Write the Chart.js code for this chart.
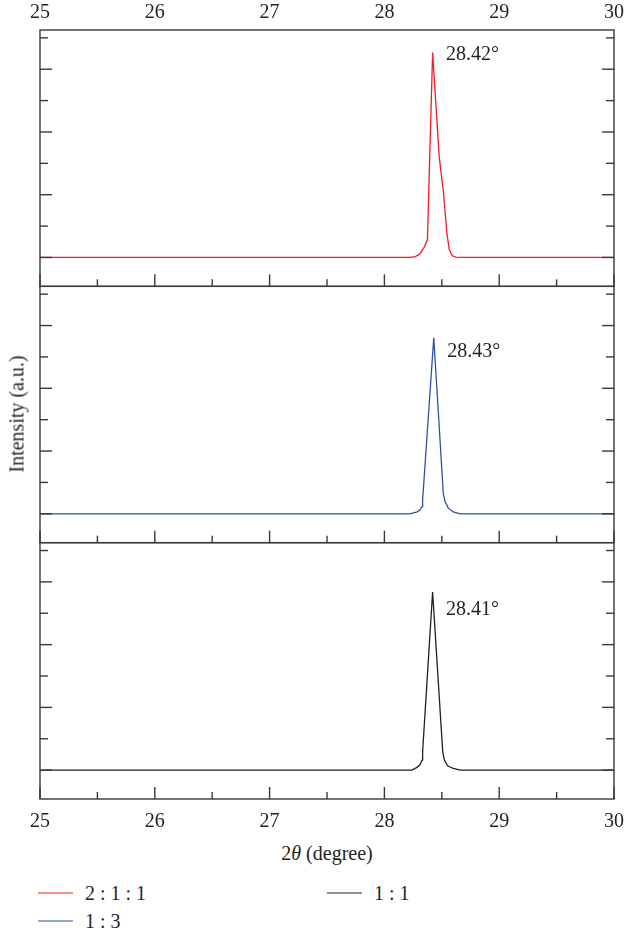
<!DOCTYPE html>
<html>
<head>
<title>XRD (111) peak</title>
<script src="https://cdn.jsdelivr.net/npm/chart.js"></script>
<style>
body {
  margin: 0;
  background: #fff;
  font-family: "Liberation Serif", serif;
  color: #231f20;
}
.fig {
  position: relative;
  width: 624px;
  height: 934px;
}
#xrd {
  position: absolute;
  left: 0;
  top: 0;
}
.ytitle {
  position: absolute;
  left: 17px;
  top: 414px;
  transform: translate(-50%, -50%) rotate(-90deg);
  font-size: 20px;
  white-space: nowrap;
}
.xtitle {
  position: absolute;
  left: 327px;
  top: 853px;
  transform: translate(-50%, -50%);
  font-size: 20px;
  white-space: nowrap;
}
.legend-item {
  position: absolute;
  display: flex;
  align-items: center;
  font-size: 20px;
  white-space: nowrap;
  transform: translateY(-50%);
}
.swatch {
  display: inline-block;
  width: 35px;
  height: 1.5px;
  margin-right: 12px;
}
</style>
</head>
<body>
<div class="fig">
  <canvas id="xrd" width="624" height="840"></canvas>
  <div class="ytitle">Intensity (a.u.)</div>
  <div class="xtitle">2<i>θ</i> (degree)</div>
  <div id="legend"></div>
</div>

<script>
// x range and tick labels
const xTickLabels = [25, 26, 27, 28, 29, 30];
const xMinorTicks = [25, 25.5, 26, 26.5, 27, 27.5, 28, 28.5, 29, 29.5, 30];
const yTickValues = [0, 1, 2, 3, 4, 5, 6, 7];

const seriesNames = ['2 : 1 : 1', '1 : 3', '1 : 1'];
const peakLabels = ['28.42°', '28.43°', '28.41°'];

// 2:1:1 (top panel)
const theta211 = [25, 28.22, 28.27, 28.31, 28.35, 28.375, 28.42, 28.478, 28.513, 28.545, 28.565, 28.59, 28.62, 28.68, 30];
const int211   = [0, 0, 0.03, 0.12, 0.35, 0.58, 6.53, 3.19, 2.12, 0.75, 0.25, 0.06, 0.01, 0, 0];

// 1:3 (middle panel)
const theta13 = [25, 28.22, 28.28, 28.31, 28.328, 28.333, 28.43, 28.513, 28.528, 28.557, 28.6, 28.66, 30];
const int13   = [0, 0, 0.05, 0.12, 0.23, 0.44, 5.61, 0.65, 0.39, 0.18, 0.06, 0, 0];

// 1:1 (bottom panel)
const theta11 = [25, 28.24, 28.28, 28.31, 28.328, 28.333, 28.42, 28.508, 28.522, 28.55, 28.594, 28.66, 30];
const int11   = [0, 0, 0.08, 0.17, 0.32, 0.59, 5.68, 0.59, 0.32, 0.14, 0.06, 0, 0];

const colors = ['#ee1c25', '#2f4fa5', '#231f20'];
const panelIds = ['yTop', 'yMid', 'yBot'];
const ink = '#231f20';
const font = { family: '"Liberation Serif", serif', size: 20 };

function pts(xs, ys) {
  return xs.map((x, i) => ({ x: x, y: ys[i] }));
}

const framePlugin = {
  id: 'frame',
  afterDraw(chart) {
    const ctx = chart.ctx;
    const a = chart.chartArea;
    const sx = chart.scales.x;
    const line = (x1, y1, x2, y2) => {
      ctx.beginPath();
      ctx.moveTo(x1, y1);
      ctx.lineTo(x2, y2);
      ctx.stroke();
    };
    ctx.save();
    ctx.strokeStyle = '#3a3a3a';
    ctx.lineWidth = 1.4;
    panelIds.forEach(id => {
      const s = chart.scales[id];
      ctx.strokeRect(a.left, s.top, a.right - a.left, s.bottom - s.top);
      yTickValues.forEach(v => {
        const py = s.getPixelForValue(v);
        const len = v % 2 === 0 ? 12 : 8;
        line(a.left, py, a.left + len, py);
        line(a.right, py, a.right - len, py);
      });
      xMinorTicks.forEach(v => {
        const px = sx.getPixelForValue(v);
        const len = Number.isInteger(v) ? 12 : 7;
        line(px, s.bottom, px, s.bottom - len);
      });
    });

    // peak labels
    const dy = [2, 14, 18];
    ctx.fillStyle = ink;
    ctx.font = '20px "Liberation Serif", serif';
    ctx.textAlign = 'left';
    ctx.textBaseline = 'middle';
    chart.data.datasets.forEach((ds, i) => {
      const meta = chart.getDatasetMeta(i);
      let top = meta.data[0];
      meta.data.forEach(p => { if (p.y < top.y) top = p; });
      ctx.fillText(peakLabels[i], top.x + 13.5, top.y + dy[i]);
    });
    ctx.restore();
  }
};

const yPanel = () => ({
  type: 'linear',
  position: 'left',
  stack: 'panels',
  stackWeight: 1,
  min: -0.92,
  max: 7.25,
  ticks: { display: false },
  grid: { display: false, drawTicks: false },
  border: { display: false },
  afterFit: s => { s.width = 0; }
});

const xAxis = (pos, pad, h) => ({
  type: 'linear',
  position: pos,
  min: 25,
  max: 30,
  afterBuildTicks: s => { s.ticks = xTickLabels.map(v => ({ value: v })); },
  ticks: { color: ink, font: font, padding: pad, maxRotation: 0, autoSkip: false },
  grid: { display: false, drawTicks: false },
  border: { display: false },
  afterFit: s => { s.height = h; s.paddingLeft = 0; s.paddingRight = 0; }
});

const ctx = document.getElementById('xrd').getContext('2d');
new Chart(ctx, {
  type: 'line',
  data: {
    datasets: [
      { label: seriesNames[0], data: pts(theta211, int211), yAxisID: 'yTop' },
      { label: seriesNames[1], data: pts(theta13, int13), yAxisID: 'yMid' },
      { label: seriesNames[2], data: pts(theta11, int11), yAxisID: 'yBot' }
    ].map((d, i) => Object.assign(d, {
      xAxisID: 'x',
      borderColor: colors[i],
      borderWidth: 1.3,
      pointRadius: 0,
      tension: 0,
      fill: false
    }))
  },
  options: {
    responsive: false,
    animation: false,
    layout: { padding: { left: 40, right: 10, top: 0, bottom: 0 } },
    plugins: {
      legend: { display: false },
      tooltip: { enabled: false }
    },
    scales: {
      x: xAxis('bottom', 11, 41),
      x2: xAxis('top', 5, 30),
      // stacked panels: the last one listed ends up on top
      yBot: yPanel(),
      yMid: yPanel(),
      yTop: yPanel()
    }
  },
  plugins: [framePlugin]
});

// legend (two columns, filled column-first)
const legendSlots = [
  { left: 38, top: 893 },
  { left: 38, top: 921 },
  { left: 327, top: 893 }
];
const legend = document.getElementById('legend');
seriesNames.forEach((name, i) => {
  const item = document.createElement('div');
  item.className = 'legend-item';
  item.style.left = legendSlots[i].left + 'px';
  item.style.top = legendSlots[i].top + 'px';
  const sw = document.createElement('span');
  sw.className = 'swatch';
  sw.style.backgroundColor = colors[i];
  item.appendChild(sw);
  item.appendChild(document.createTextNode(name));
  legend.appendChild(item);
});
</script>
</body>
</html>
